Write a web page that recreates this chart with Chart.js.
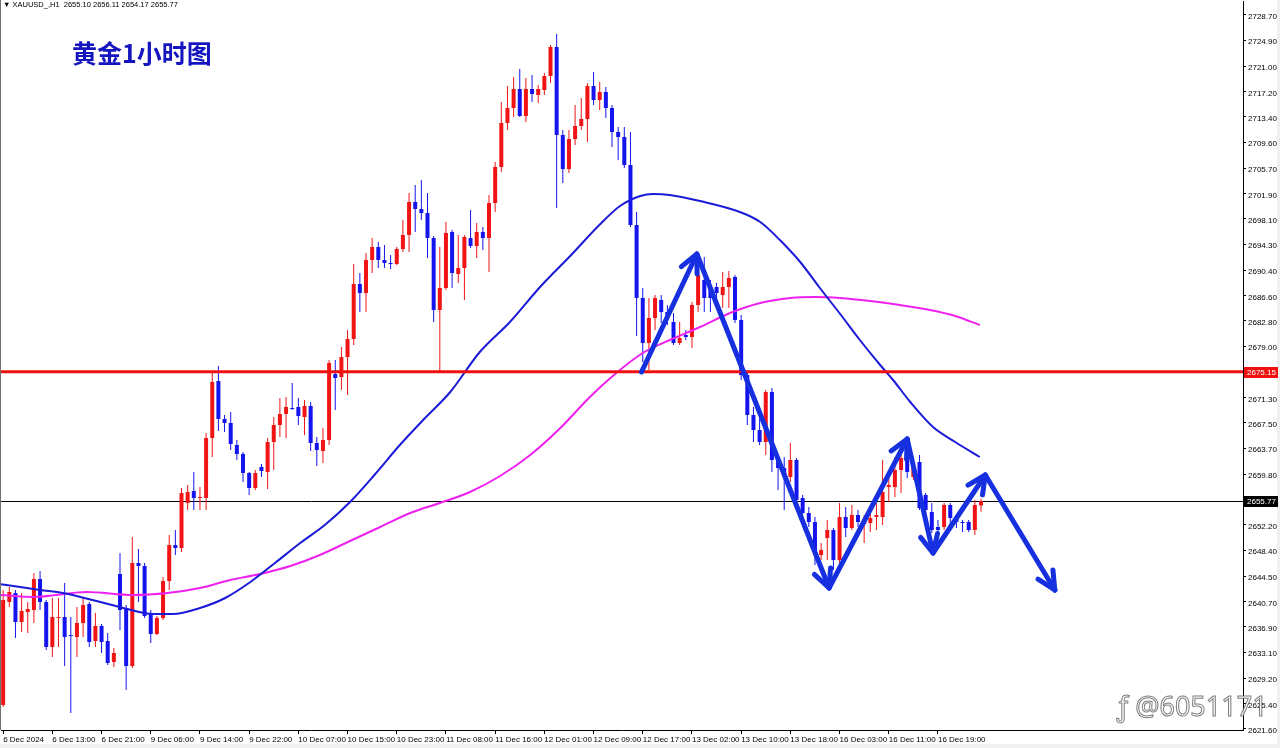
<!DOCTYPE html>
<html>
<head>
<meta charset="utf-8">
<title>黄金1小时图</title>
<script src="https://cdn.jsdelivr.net/npm/chart.js@4.4.1/dist/chart.umd.min.js"></script>
<style>
  html, body { margin: 0; padding: 0; background: #f0f0f0; overflow: hidden; }
  #box { position: relative; width: 1280px; height: 748px; }
  #c { position: absolute; left: 0; top: 0; }
  .hdr { position: absolute; left: 3px; top: 0; font: 7.5px "Liberation Sans", Arial, sans-serif; color: #000; white-space: pre; line-height: 10px; }
  .title { position: absolute; left: 72px; top: 40px; font: bold 25px "Noto Sans CJK SC", sans-serif; color: #1515c0; line-height: 1; }
  .wm { position: absolute; left: 1117px; top: 692px; font: 27px "Noto Sans", sans-serif; color: rgba(255,255,255,0.85);
        -webkit-text-stroke: 1px rgba(80,80,80,0.75); white-space: pre; line-height: 1; }
</style>
</head>
<body>
<div id="box">
  <canvas id="c" width="1280" height="748"></canvas>
  <div class="hdr">▼ XAUUSD_,H1  2655.10 2656.11 2654.17 2655.77</div>
  <div class="title">黄金1小时图</div>
  <div class="wm">ƒ @6051171</div>
</div>
<script>
// hourly OHLC, one entry per bar (6 Dec .. 17 Dec)
const opens = [
  2625.17, 2640.62, 2641.97, 2637.62, 2639.12, 2639.42, 2644.07, 2640.62, 2633.87, 2638.22,
  2638.37, 2635.67, 2635.37, 2637.47, 2640.32, 2634.77, 2637.02, 2634.77, 2631.62, 2644.82,
  2639.72, 2631.02, 2646.47, 2646.02, 2638.82, 2635.82, 2638.22, 2643.77, 2649.17, 2648.72,
  2655.47, 2657.27, 2656.22, 2656.22, 2665.22, 2673.77, 2668.07, 2667.47, 2664.17, 2662.82,
  2659.97, 2657.72, 2660.87, 2660.12, 2664.62, 2667.17, 2668.82, 2669.72, 2669.87, 2668.37,
  2670.02, 2664.47, 2663.27, 2664.92, 2674.82, 2674.37, 2677.37, 2680.07, 2688.32, 2686.97,
  2691.92, 2693.87, 2691.92, 2691.47, 2691.32, 2693.57, 2695.67, 2700.62, 2699.57, 2698.97,
  2695.22, 2684.42, 2687.72, 2696.12, 2689.82, 2690.72, 2695.22, 2694.02, 2696.12, 2695.22,
  2700.47, 2705.87, 2712.47, 2714.72, 2717.57, 2713.52, 2717.57, 2716.67, 2717.42, 2719.52,
  2723.87, 2710.67, 2705.57, 2710.07, 2712.02, 2713.07, 2718.02, 2715.92, 2717.12, 2714.72,
  2711.12, 2710.37, 2706.17, 2697.17, 2686.22, 2679.47, 2683.22, 2685.92, 2684.12, 2682.62,
  2679.47, 2680.67, 2680.37, 2685.17, 2688.92, 2687.72, 2687.87, 2686.67, 2687.87, 2689.37,
  2682.92, 2674.67, 2668.67, 2666.42, 2664.62, 2672.12, 2661.92, 2660.72, 2659.37, 2661.92,
  2656.22, 2653.97, 2652.62, 2647.67, 2650.22, 2651.42, 2646.92, 2653.37, 2651.72, 2653.67,
  2652.32, 2652.47, 2653.37, 2653.37, 2657.87, 2657.87, 2660.42, 2662.22, 2659.37, 2661.62,
  2656.67, 2654.12, 2651.87, 2651.87, 2655.17, 2653.22, 2652.62, 2652.62, 2651.42, 2655.10
];
const highs = [
  2642.42, 2642.87, 2642.42, 2641.97, 2640.62, 2644.97, 2645.27, 2640.92, 2641.22, 2641.22,
  2643.47, 2638.37, 2639.87, 2641.37, 2640.62, 2638.97, 2637.32, 2635.97, 2633.72, 2647.97,
  2640.17, 2650.37, 2648.57, 2646.47, 2639.42, 2638.52, 2644.37, 2650.67, 2651.42, 2657.72,
  2658.17, 2660.12, 2657.87, 2665.97, 2674.97, 2676.02, 2668.67, 2669.12, 2664.92, 2663.12,
  2660.12, 2660.42, 2661.32, 2665.22, 2668.37, 2671.22, 2671.37, 2673.47, 2671.22, 2670.92,
  2670.62, 2665.37, 2666.72, 2676.92, 2676.92, 2678.87, 2681.42, 2691.32, 2689.97, 2692.97,
  2695.22, 2694.62, 2694.17, 2692.67, 2693.87, 2697.92, 2701.97, 2703.17, 2703.92, 2701.97,
  2695.52, 2693.87, 2697.62, 2696.42, 2695.67, 2695.67, 2699.42, 2697.47, 2696.87, 2701.67,
  2706.62, 2715.62, 2718.02, 2719.37, 2720.57, 2719.22, 2719.67, 2718.17, 2719.97, 2724.17,
  2725.82, 2711.42, 2711.42, 2715.17, 2716.22, 2718.47, 2720.12, 2718.62, 2717.87, 2715.17,
  2711.87, 2711.87, 2711.12, 2699.12, 2687.72, 2686.22, 2686.67, 2686.67, 2685.17, 2683.97,
  2682.62, 2681.42, 2685.62, 2691.47, 2692.37, 2688.92, 2688.47, 2690.12, 2690.27, 2689.67,
  2683.67, 2675.42, 2669.87, 2668.97, 2672.42, 2672.72, 2662.67, 2662.37, 2664.47, 2662.22,
  2656.67, 2654.87, 2653.37, 2649.47, 2652.92, 2651.72, 2655.47, 2654.87, 2655.17, 2654.42,
  2653.67, 2654.12, 2655.47, 2661.92, 2660.42, 2662.37, 2663.87, 2663.12, 2661.62, 2662.67,
  2656.97, 2655.47, 2652.92, 2655.47, 2655.47, 2653.67, 2652.92, 2652.92, 2655.92, 2656.11
];
const lows = [
  2624.87, 2639.87, 2635.22, 2636.12, 2635.97, 2637.47, 2639.42, 2633.42, 2632.37, 2633.87,
  2631.02, 2623.97, 2632.37, 2635.37, 2633.87, 2633.87, 2632.97, 2631.17, 2630.87, 2636.42,
  2627.42, 2630.72, 2640.62, 2638.22, 2634.47, 2635.67, 2637.92, 2642.42, 2647.67, 2648.12,
  2654.42, 2654.42, 2654.42, 2654.42, 2662.37, 2666.27, 2666.12, 2663.42, 2661.92, 2658.62,
  2656.67, 2657.42, 2659.37, 2657.57, 2660.42, 2665.37, 2665.22, 2669.42, 2667.17, 2665.67,
  2663.27, 2661.02, 2661.47, 2664.17, 2669.42, 2672.42, 2671.67, 2679.17, 2684.12, 2684.12,
  2689.97, 2690.72, 2690.72, 2690.57, 2691.17, 2693.12, 2693.12, 2696.12, 2697.92, 2692.22,
  2682.62, 2675.12, 2687.42, 2687.72, 2688.47, 2685.92, 2693.72, 2692.22, 2693.42, 2690.12,
  2699.12, 2705.12, 2711.42, 2713.37, 2713.37, 2712.62, 2715.62, 2715.47, 2716.67, 2718.47,
  2699.72, 2703.47, 2704.97, 2709.17, 2711.42, 2709.62, 2715.17, 2714.42, 2713.22, 2708.87,
  2706.92, 2705.72, 2696.87, 2680.52, 2676.62, 2675.42, 2681.42, 2682.47, 2682.17, 2679.17,
  2679.17, 2679.92, 2678.72, 2684.12, 2684.12, 2684.12, 2684.72, 2684.72, 2684.72, 2682.47,
  2673.92, 2667.17, 2664.62, 2664.17, 2662.67, 2660.12, 2657.42, 2654.42, 2658.62, 2655.62,
  2652.17, 2651.87, 2646.17, 2646.92, 2646.92, 2645.42, 2646.47, 2650.37, 2651.42, 2651.87,
  2649.47, 2651.12, 2651.42, 2652.17, 2655.62, 2656.37, 2656.97, 2659.22, 2658.92, 2654.42,
  2651.87, 2650.97, 2650.67, 2651.42, 2651.87, 2651.72, 2651.12, 2651.12, 2650.67, 2654.17
];
const closes = [
  2640.92, 2642.12, 2637.62, 2639.27, 2639.57, 2644.07, 2640.62, 2633.87, 2638.37, 2638.37,
  2635.37, 2635.52, 2637.47, 2640.17, 2634.62, 2637.02, 2634.62, 2631.47, 2632.97, 2639.42,
  2631.02, 2646.47, 2646.02, 2638.52, 2635.82, 2638.22, 2643.77, 2649.17, 2648.72, 2656.97,
  2657.12, 2656.22, 2656.37, 2665.22, 2673.62, 2668.07, 2667.47, 2664.32, 2662.82, 2659.97,
  2657.72, 2659.97, 2660.27, 2664.62, 2667.17, 2668.82, 2669.87, 2669.57, 2668.52, 2670.02,
  2664.47, 2663.42, 2664.92, 2676.47, 2674.22, 2677.37, 2680.07, 2688.32, 2686.97, 2691.92,
  2693.87, 2691.92, 2691.47, 2691.32, 2693.57, 2695.67, 2700.62, 2699.57, 2698.97, 2695.22,
  2684.42, 2687.72, 2695.97, 2689.97, 2690.72, 2695.37, 2694.02, 2696.12, 2695.22, 2700.47,
  2705.87, 2712.47, 2714.72, 2717.57, 2713.52, 2717.57, 2716.82, 2717.57, 2719.52, 2723.87,
  2710.67, 2705.57, 2710.07, 2712.02, 2713.07, 2718.02, 2715.92, 2717.12, 2714.72, 2711.12,
  2710.37, 2706.17, 2697.17, 2686.22, 2679.47, 2683.22, 2686.22, 2684.12, 2683.37, 2679.47,
  2680.22, 2680.37, 2685.17, 2689.67, 2686.22, 2686.22, 2686.97, 2687.87, 2689.22, 2682.92,
  2674.67, 2668.67, 2666.42, 2664.62, 2672.12, 2661.92, 2660.72, 2659.37, 2661.92, 2655.92,
  2653.97, 2652.62, 2647.67, 2648.42, 2651.42, 2646.92, 2653.37, 2651.72, 2653.67, 2652.62,
  2652.92, 2653.22, 2653.67, 2657.12, 2658.17, 2660.42, 2662.22, 2660.12, 2660.72, 2654.72,
  2654.42, 2651.42, 2651.42, 2655.17, 2653.22, 2652.62, 2652.47, 2651.42, 2655.17, 2655.77
];

// time axis labels, one every 8 bars
const timeLabels = ['6 Dec 2024', '6 Dec 13:00', '6 Dec 21:00', '9 Dec 06:00', '9 Dec 14:00',
  '9 Dec 22:00', '10 Dec 07:00', '10 Dec 15:00', '10 Dec 23:00', '11 Dec 08:00', '11 Dec 16:00',
  '12 Dec 01:00', '12 Dec 09:00', '12 Dec 17:00', '13 Dec 02:00', '13 Dec 10:00', '13 Dec 18:00',
  '16 Dec 03:00', '16 Dec 11:00', '16 Dec 19:00'];
const labelStep = 8;

const priceTicks = [2728.70, 2724.90, 2721.00, 2717.20, 2713.40, 2709.60, 2705.70, 2701.90,
  2698.10, 2694.30, 2690.40, 2686.60, 2682.80, 2679.00, 2671.30, 2667.50, 2663.70, 2659.80,
  2652.20, 2648.40, 2644.50, 2640.70, 2636.90, 2633.10, 2629.20, 2625.40, 2621.60];

// moving averages (bar position, price)
const blueMaAt = [-0.5, 6.0, 9.7, 15.8, 19.5, 24.4, 27.6, 32.0, 36.1, 40.2, 44.2, 48.3, 52.3, 56.4,
  60.5, 64.5, 68.6, 72.7, 77.5, 82.4, 87.3, 92.2, 97.1, 100.3, 103.6, 105.7, 108.4, 113.3, 119.8,
  123.1, 126.3, 129.6, 132.8, 136.1, 139.3, 142.6, 144.7, 147.5, 151.2, 154.8, 158.8];
const blueMaVal = [2643.32, 2642.42, 2641.97, 2640.62, 2639.72, 2638.82, 2638.82, 2639.72, 2641.22,
  2643.62, 2646.47, 2649.47, 2652.17, 2655.62, 2659.82, 2664.17, 2668.22, 2672.12, 2678.12, 2682.62,
  2687.87, 2692.52, 2697.32, 2700.02, 2701.52, 2701.82, 2701.67, 2700.77, 2699.12, 2697.62, 2694.92,
  2691.62, 2687.72, 2683.82, 2679.92, 2676.17, 2673.92, 2670.62, 2666.87, 2664.62, 2662.37];
const pinkMaAt = [-0.5, 4.9, 13.6, 21.1, 26.7, 32.0, 36.9, 41.8, 46.7, 51.5, 56.4, 61.3, 66.2, 71.0,
  75.9, 80.8, 85.7, 90.6, 95.4, 99.5, 104.0, 108.4, 113.3, 118.2, 123.1, 128.0, 132.0, 136.1, 141.0,
  145.8, 150.7, 154.8, 158.8];
const pinkMaVal = [2641.67, 2641.37, 2642.12, 2641.67, 2641.97, 2642.72, 2643.92, 2644.82, 2646.02,
  2647.67, 2649.77, 2651.87, 2653.97, 2655.47, 2657.12, 2659.52, 2662.67, 2666.72, 2671.37, 2674.82,
  2677.97, 2679.92, 2681.87, 2683.97, 2685.47, 2686.22, 2686.37, 2686.22, 2685.77, 2685.17, 2684.42,
  2683.52, 2682.17];

const keyLevel = 2675.15;
const lastPrice = 2655.77;

// hand-drawn zigzag arrows (bar position, price)
const arrowAt = [103.8, 112.8, 134.3, 147.0, 151.2, 159.7, 171.0];
const arrowVal = [2675.12, 2692.82, 2642.72, 2665.07, 2647.97, 2659.67, 2642.42];

const X_MIN = -0.35, X_MAX = 201.6;
const UP = '#f01414', DOWN = '#1414ee';

const barColors = opens.map((o, i) => closes[i] >= o ? UP : DOWN);
const wickData = opens.map((o, i) => ({ x: i, y: [lows[i], highs[i]] }));
const bodyData = opens.map((o, i) => ({ x: i, y: [o, closes[i]] }));
const pts = (xs, ys) => xs.map((x, i) => ({ x: x, y: ys[i] }));

const font8 = { family: '"Liberation Sans", Arial, sans-serif', size: 8 };

const decor = {
  id: 'decor',
  beforeDraw(chart) {
    const c = chart.ctx;
    c.save();
    c.fillStyle = '#f0f0f0';
    c.fillRect(0, 0, chart.width, chart.height);
    c.fillStyle = '#ffffff';
    c.fillRect(0, 0, 1277, 744);
    c.strokeStyle = '#707070';
    c.lineWidth = 1;
    c.beginPath();
    c.moveTo(0.5, 0);
    c.lineTo(0.5, chart.chartArea.bottom);
    c.stroke();
    c.restore();
  },
  beforeDatasetsDraw(chart) {
    // thin last-price line, snapped to a whole pixel so it stays black
    const c = chart.ctx;
    const a = chart.chartArea;
    const y = Math.round(chart.scales.y.getPixelForValue(lastPrice)) + 0.5;
    c.save();
    c.strokeStyle = '#000';
    c.lineWidth = 1;
    c.beginPath();
    c.moveTo(a.left, y);
    c.lineTo(a.right, y);
    c.stroke();
    c.restore();
  },
  afterDatasetsDraw(chart) {
    // arrow heads at the end of every zigzag leg
    const meta = chart.getDatasetMeta(chart.data.datasets.findIndex(d => d.label === 'arrows'));
    const p = meta.data;
    const c = chart.ctx;
    c.save();
    c.strokeStyle = '#1630e0';
    c.lineWidth = 5;
    c.lineCap = 'round';
    for (let k = 1; k < p.length; k++) {
      const a = Math.atan2(p[k].y - p[k - 1].y, p[k].x - p[k - 1].x) + Math.PI;
      [-0.45, 0.45].forEach(s => {
        c.beginPath();
        c.moveTo(p[k].x, p[k].y);
        c.lineTo(p[k].x + 20 * Math.cos(a + s), p[k].y + 20 * Math.sin(a + s));
        c.stroke();
      });
    }
    c.restore();
  },
  afterDraw(chart) {
    const c = chart.ctx;
    const ys = chart.scales.y;
    const left = chart.chartArea.right;
    const tag = (v, bg) => {
      const y = Math.round(ys.getPixelForValue(v));
      c.fillStyle = bg;
      c.fillRect(left + 1, y - 5, 34, 11);
      c.fillStyle = '#ffffff';
      c.font = '8px "Liberation Sans", Arial, sans-serif';
      c.textBaseline = 'middle';
      c.fillText(v.toFixed(2), left + 4, y + 0.5);
    };
    c.save();
    tag(keyLevel, '#f01010');
    tag(lastPrice, '#000000');
    c.restore();
  }
};

new Chart(document.getElementById('c'), {
  type: 'bar',
  data: {
    datasets: [
      { label: 'arrows', type: 'line', data: pts(arrowAt, arrowVal), borderColor: '#1630e0',
        borderWidth: 5, pointRadius: 0, borderJoinStyle: 'round', borderCapStyle: 'round', order: 0 },
      { label: 'level', type: 'line', data: pts([X_MIN, X_MAX], [keyLevel, keyLevel]),
        borderColor: '#f01010', borderWidth: 3, pointRadius: 0, order: 1 },
      { label: 'ma blue', type: 'line', data: pts(blueMaAt, blueMaVal), borderColor: '#1a1ad8',
        borderWidth: 2, pointRadius: 0, cubicInterpolationMode: 'monotone', order: 3 },
      { label: 'ma pink', type: 'line', data: pts(pinkMaAt, pinkMaVal), borderColor: '#ee22ee',
        borderWidth: 2, pointRadius: 0, cubicInterpolationMode: 'monotone', order: 4 },
      { label: 'bodies', data: bodyData, backgroundColor: barColors, barThickness: 4,
        minBarLength: 1, grouped: false, inflateAmount: 0, borderWidth: 0, order: 5 },
      { label: 'wicks', data: wickData, backgroundColor: barColors, barThickness: 1,
        grouped: false, inflateAmount: 0, borderWidth: 0, order: 6 }
    ]
  },
  options: {
    responsive: false,
    animation: false,
    events: [],
    layout: { padding: { left: 1, top: 1, right: 0, bottom: 0 } },
    plugins: { legend: { display: false }, tooltip: { enabled: false } },
    scales: {
      x: {
        type: 'linear',
        min: X_MIN,
        max: X_MAX,
        offset: false,
        bounds: 'data',
        grid: { drawOnChartArea: false, offset: false, color: '#000', tickLength: 4 },
        border: { display: true, color: '#000', width: 1 },
        afterBuildTicks: s => { s.ticks = timeLabels.map((t, k) => ({ value: k * labelStep })); },
        afterFit: s => { s.height = 18; s.paddingLeft = 0; s.paddingRight = 0; },
        ticks: {
          autoSkip: false, maxRotation: 0, align: 'start', padding: 1, color: '#000', font: font8,
          callback: (v, k) => timeLabels[k]
        }
      },
      y: {
        position: 'right',
        min: 2621.42,
        max: 2730.77,
        beginAtZero: false,
        bounds: 'data',
        grid: { drawOnChartArea: false, color: '#000', tickLength: 3 },
        border: { display: true, color: '#000', width: 1 },
        afterBuildTicks: s => { s.ticks = priceTicks.map(v => ({ value: v })); },
        afterFit: s => { s.width = 37; s.paddingTop = 0; s.paddingBottom = 0; },
        ticks: {
          autoSkip: false, padding: 2, labelOffset: 2, color: '#000', font: font8,
          callback: v => Number(v).toFixed(2)
        }
      }
    }
  },
  plugins: [decor]
});
</script>
</body>
</html>
